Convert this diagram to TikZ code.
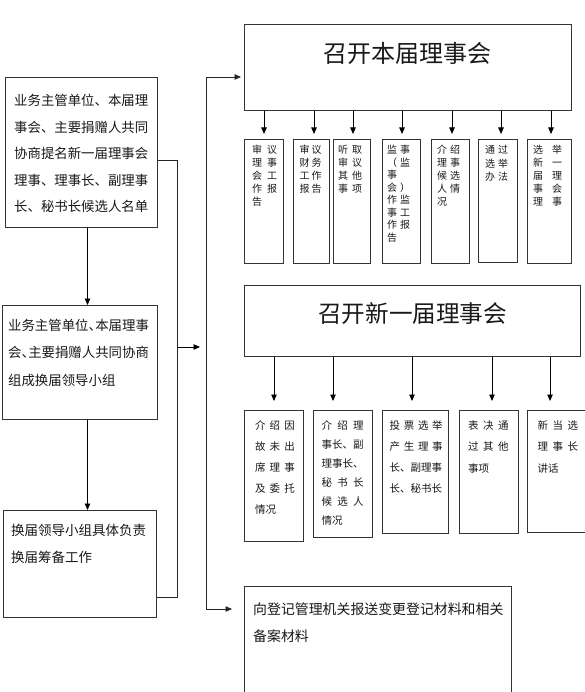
\documentclass[tikz,border=0pt]{standalone}
\usepackage{fontspec}
\newfontfamily\cjk{Noto Sans CJK SC}
\usetikzlibrary{arrows.meta,calc}
\newcommand{\dun}{\makebox[0.5em][l]{、}}
\newcommand{\pr}[3]{\makebox[#1][l]{#2\hfill #3}}
\newcommand{\sprd}[2]{\makebox[#1][l]{#2}}
\newcommand{\tx}[4]{\parbox[t]{#1}{\fontsize{#2}{#3}\selectfont\cjk #4}}
\begin{document}
\begin{tikzpicture}[x=1pt,y=-1pt,
  box/.style={draw=black!80, line width=0.8pt, inner sep=0pt, anchor=north west},
  txt/.style={inner sep=0pt, anchor=base west, text=black!90},
  arr/.style={line width=0.8pt, draw=black, -{Triangle[length=6.5pt,width=5.5pt]}},
  ln/.style={line width=0.8pt, draw=black!85}]
\useasboundingbox (0,0) rectangle (585,692);
\fill[white] (0,0) rectangle (585,692);
\clip (0,0) rectangle (585,692);

% left column boxes
\node[box, minimum width=152pt, minimum height=150pt] (lb1) at (5,77) {};
\node[box, minimum width=155pt, minimum height=114pt] (lb2) at (2,305) {};
\node[box, minimum width=153pt, minimum height=107pt] (lb3) at (3,510) {};
\node[txt] (tlb1) at (14,106) {\tx{146pt}{13.4}{26.5}{业务主管单位、本届理\\事会、主要捐赠人共同\\协商提名新一届理事会\\理事、理事长、副理事\\长、秘书长候选人名单}};
\node[txt] (tlb2) at (8,330) {\tx{146pt}{13.4}{27.5}{业务主管单位\dun 本届理事\\会\dun 主要捐赠人共同协商\\组成换届领导小组}};
\node[txt] (tlb3) at (11,535) {\tx{142pt}{13.5}{27}{换届领导小组具体负责\\换届筹备工作}};

% top meeting
\node[box, minimum width=327pt, minimum height=86pt] (top) at (244,24) {};
\node[txt] (ttop) at (323,63) {\fontsize{24}{28}\selectfont\cjk 召开本届理事会};

\node[box, minimum width=39pt, minimum height=124pt] (r1a) at (244,139) {};
\node[box, minimum width=36pt, minimum height=124pt] (r1b) at (293,139) {};
\node[box, minimum width=37pt, minimum height=124pt] (r1c) at (333,139) {};
\node[box, minimum width=38pt, minimum height=124pt] (r1d) at (382,139) {};
\node[box, minimum width=38pt, minimum height=124pt] (r1e) at (431,139) {};
\node[box, minimum width=39pt, minimum height=123pt] (r1f) at (478,139) {};
\node[box, minimum width=44pt, minimum height=124pt] (r1g) at (527,139) {};

\node[txt] (t1a) at (252,153.8) {\tx{26pt}{10}{13}{\pr{25pt}{审}{议}\\\pr{25pt}{理}{事}\\\pr{25pt}{会}{工}\\\pr{25pt}{作}{报}\\告}};
\node[txt] (t1b) at (299.5,153.8) {\tx{23pt}{10}{13}{\pr{22pt}{审}{议}\\\pr{22pt}{财}{务}\\\pr{22pt}{工}{作}\\\pr{22pt}{报}{告}}};
\node[txt] (t1c) at (338,153.8) {\tx{25pt}{10}{13}{\pr{24pt}{听}{取}\\\pr{24pt}{审}{议}\\\pr{24pt}{其}{他}\\\pr{24pt}{事}{项}}};
\node[txt] (t1d) at (387,153.8) {\tx{24pt}{10}{12.5}{\pr{23pt}{监}{事}\\\pr{23pt}{（}{监}\\事\\\pr{23pt}{会}{）}\\\pr{23pt}{作}{监}\\\pr{23pt}{事}{工}\\\pr{23pt}{作}{报}\\告}};
\node[txt] (t1e) at (437,153.8) {\tx{24pt}{10}{13}{\pr{23pt}{介}{绍}\\\pr{23pt}{理}{事}\\\pr{23pt}{候}{选}\\\pr{23pt}{人}{情}\\况}};
\node[txt] (t1f) at (485,153.8) {\tx{24pt}{10}{13.5}{\pr{23pt}{通}{过}\\\pr{23pt}{选}{举}\\\pr{23pt}{办}{法}}};
\node[txt] (t1g) at (533,153.8) {\tx{30pt}{10}{13}{\pr{29pt}{选}{举}\\\pr{29pt}{新}{一}\\\pr{29pt}{届}{理}\\\pr{29pt}{事}{会}\\\pr{29pt}{理}{事}}};

% second meeting
\node[box, minimum width=336pt, minimum height=71pt] (mid) at (244,285) {};
\node[txt] (tmid) at (318,322) {\fontsize{23.6}{28}\selectfont\cjk 召开新一届理事会};

\node[box, minimum width=59pt, minimum height=131pt] (r2a) at (244,410) {};
\node[box, minimum width=59pt, minimum height=127pt] (r2b) at (313,410) {};
\node[box, minimum width=66pt, minimum height=123pt] (r2c) at (382,410) {};
\node[box, minimum width=59pt, minimum height=123pt] (r2d) at (459,410) {};
\node[box, minimum width=70pt, minimum height=122pt] (r2e) at (527,410) {};

\node[txt] (t2a) at (254.8,429) {\tx{41pt}{10.5}{21}{\sprd{39.8pt}{介\hfill 绍\hfill 因}\\\sprd{39.8pt}{故\hfill 未\hfill 出}\\\sprd{39.8pt}{席\hfill 理\hfill 事}\\\sprd{39.8pt}{及\hfill 委\hfill 托}\\情况}};
\node[txt] (t2b) at (321.5,429) {\tx{43pt}{10.5}{19}{\sprd{42pt}{介\hfill 绍\hfill 理}\\事长、副\\理事长、\\\sprd{42pt}{秘\hfill 书\hfill 长}\\\sprd{42pt}{候\hfill 选\hfill 人}\\情况}};
\node[txt] (t2c) at (389.5,429) {\tx{54pt}{10.5}{21}{\sprd{53pt}{投\hfill 票\hfill 选\hfill 举}\\\sprd{53pt}{产\hfill 生\hfill 理\hfill 事}\\长、副理事\\长、秘书长}};
\node[txt] (t2d) at (468,429) {\tx{42pt}{10.5}{21.5}{\sprd{40.5pt}{表\hfill 决\hfill 通}\\\sprd{40.5pt}{过\hfill 其\hfill 他}\\事项}};
\node[txt] (t2e) at (537.5,429) {\tx{42pt}{10.5}{21.5}{\sprd{40.5pt}{新\hfill 当\hfill 选}\\\sprd{40.5pt}{理\hfill 事\hfill 长}\\讲话}};

% bottom box
\node[box, minimum width=267pt, minimum height=120pt] (bot) at (244,586) {};
\node[txt] (tbot) at (253,614.3) {\tx{255pt}{13.9}{27}{向登记管理机关报送变更登记材料和相关\\备案材料}};

% arrow positions
\coordinate (qa) at (264,139);
\coordinate (qb) at (314,139);
\coordinate (qc) at (353,139);
\coordinate (qd) at (402,139);
\coordinate (qe) at (452,139);
\coordinate (qf) at (501,139);
\coordinate (qg) at (551,139);
\foreach \q in {qa,qb,qc,qd,qe,qf,qg}
  \draw[arr] (top.south -| \q) -- ([yshift=5pt]\q);

\coordinate (pa) at (274,410);
\coordinate (pb) at (333,410);
\coordinate (pc) at (412,410);
\coordinate (pd) at (492,410);
\coordinate (pe) at (550,410);
\foreach \p in {pa,pb,pc,pd,pe}
  \draw[arr] (mid.south -| \p) -- ([yshift=9pt]\p);

% left column arrows
\coordinate (ax) at (87.5,0);
\draw[arr] (lb1.south -| ax) -- (lb2.north -| ax);
\draw[arr] (lb2.south -| ax) -- (lb3.north -| ax);

% collecting line
\coordinate (c1) at (177,160);
\coordinate (c2) at (177,347);
\coordinate (c2t) at (200,347);
\coordinate (c3) at (177,597);
\draw[ln] (c1 -| lb1.east) -- (c1) -- (c3) -- (c3 -| lb3.east);
\draw[arr] (c2) -- (c2t);

% distributing line
\coordinate (d1) at (206,77);
\coordinate (d2) at (206,609);
\coordinate (e1) at (241,77);
\coordinate (e2) at (232,609);
\draw[ln, {Triangle[length=6.5pt,width=5.5pt]}-{Triangle[length=6.5pt,width=5.5pt]}] (e1) -- (d1) -- (d2) -- (e2);
\end{tikzpicture}
\end{document}
